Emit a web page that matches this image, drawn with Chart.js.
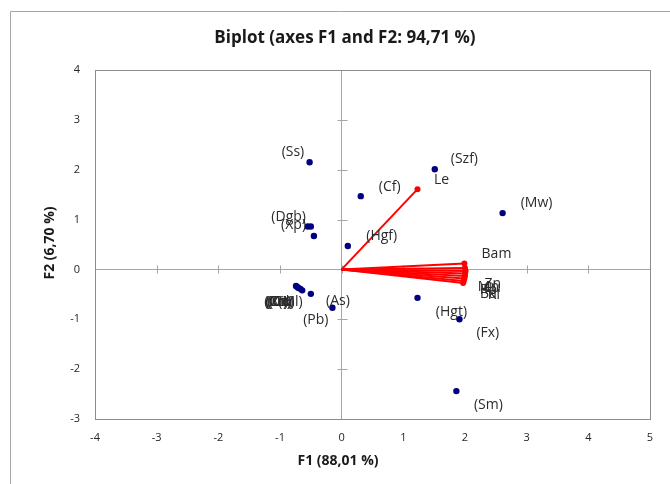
<!DOCTYPE html>
<html>
<head>
<meta charset="utf-8">
<script src="https://cdn.jsdelivr.net/npm/chart.js@4.4.1/dist/chart.umd.min.js"></script>
<style>
  html, body { margin: 0; padding: 0; background: #fff; }
</style>
</head>
<body>
<canvas id="chart" width="670" height="484"></canvas>
<script>
// observations (F1, F2)
const obsX = [-0.52, 1.51, 0.31, 2.61, 0.10, -0.55, -0.50, -0.45, -0.74, -0.72, -0.70, -0.67, -0.64, -0.50, -0.15, 1.23, 1.91, 1.86];
const obsY = [2.15, 2.01, 1.47, 1.13, 0.47, 0.86, 0.86, 0.67, -0.33, -0.35, -0.37, -0.39, -0.42, -0.49, -0.77, -0.57, -1.00, -2.44];

// variables (vector ends)
const varX = [1.23, 1.99, 2.00, 2.01, 2.00, 2.00, 1.99, 1.98, 1.97];
const varY = [1.61, 0.12, 0.03, -0.03, -0.08, -0.13, -0.18, -0.23, -0.27];

// point / vector labels (anchor in F1, F2 units)
const labelText = ["(Ss)", "(Szf)", "Le", "(Cf)", "(Mw)", "(Hgf)", "Bam", "(Dgb)", "(Xp)",
  "(Cr)", "(Ni)", "(Cu)", "(Zn)", "(Cd)", "(Co)", "(Ml)",
  "(As)", "(Pb)", "Zn", "Mn", "Rb", "Cu", "Ba", "KI", "(Hgt)", "(Fx)", "(Sm)"];
const labelX = [-0.79, 1.99, 1.62, 0.78, 3.16, 0.65, 2.51, -0.86, -0.78,
  -1.07, -1.05, -1.03, -1.01, -0.99, -0.97, -0.83,
  -0.06, -0.42, 2.45, 2.38, 2.38, 2.44, 2.38, 2.47, 1.78, 2.37, 2.38];
const labelY = [2.35, 2.21, 1.79, 1.65, 1.34, 0.67, 0.31, 1.05, 0.89,
  -0.65, -0.65, -0.65, -0.65, -0.65, -0.65, -0.66,
  -0.63, -1.01, -0.29, -0.36, -0.42, -0.38, -0.49, -0.52, -0.85, -1.28, -2.72];

const xMin = -4, xMax = 5;
const yMin = -3, yMax = 4;

const fontName = '"Open Sans", "Liberation Sans", sans-serif';

const datasets = [];
datasets.push({
  data: obsX.map((x, i) => ({ x: x, y: obsY[i] })),
  pointRadius: 3.2,
  pointBackgroundColor: '#000080',
  pointBorderWidth: 0,
  showLine: false
});
varX.forEach((x, i) => {
  datasets.push({
    data: [{ x: 0, y: 0 }, { x: x, y: varY[i] }],
    showLine: true,
    borderColor: '#ff0000',
    borderWidth: 2,
    pointRadius: [0, 3],
    pointBackgroundColor: '#ff0000',
    pointBorderWidth: 0
  });
});

const decor = {
  id: 'decor',
  beforeDraw(chart) {
    const ctx = chart.ctx;
    ctx.save();
    ctx.strokeStyle = '#a6a6a6';
    ctx.lineWidth = 1;
    ctx.beginPath();
    ctx.moveTo(10.5, 484);
    ctx.lineTo(10.5, 11.5);
    ctx.lineTo(670, 11.5);
    ctx.stroke();
    ctx.restore();
  },
  beforeDatasetsDraw(chart) {
    const ctx = chart.ctx;
    const a = chart.chartArea;
    const sx = chart.scales.x, sy = chart.scales.y;
    const x0 = Math.round(sx.getPixelForValue(0)) + 0.5;
    const y0 = Math.round(sy.getPixelForValue(0)) + 0.5;
    ctx.save();
    ctx.strokeStyle = '#a6a6a6';
    ctx.lineWidth = 1;
    ctx.beginPath();
    sx.ticks.forEach(t => {
      const px = Math.round(sx.getPixelForValue(t.value)) + 0.5;
      ctx.moveTo(px, y0 - 4);
      ctx.lineTo(px, y0 + 4);
    });
    sy.ticks.forEach(t => {
      const py = Math.round(sy.getPixelForValue(t.value)) + 0.5;
      ctx.moveTo(x0 - 5, py);
      ctx.lineTo(x0 + 5, py);
    });
    ctx.stroke();
    ctx.strokeStyle = '#8c8c8c';
    ctx.strokeRect(Math.round(a.left) + 0.5, Math.round(a.top) + 0.5,
      Math.round(a.right - a.left), Math.round(a.bottom - a.top));
    ctx.restore();
  },
  afterDatasetsDraw(chart) {
    const ctx = chart.ctx;
    const sx = chart.scales.x, sy = chart.scales.y;
    ctx.save();
    ctx.font = '14px ' + fontName;
    ctx.fillStyle = '#2b2b2b';
    ctx.textAlign = 'center';
    ctx.textBaseline = 'middle';
    labelText.forEach((t, i) => {
      ctx.fillText(t, sx.getPixelForValue(labelX[i]), sy.getPixelForValue(labelY[i]));
    });
    ctx.restore();
  },
  afterDraw(chart) {
    const ctx = chart.ctx;
    ctx.save();
    ctx.fillStyle = '#1a1a1a';
    ctx.textAlign = 'center';
    ctx.textBaseline = 'middle';
    ctx.font = 'bold 17px ' + fontName;
    ctx.fillText('Biplot (axes F1 and F2: 94,71 %)', 345, 38);
    ctx.font = 'bold 14px ' + fontName;
    ctx.fillText('F1 (88,01 %)', 338, 461);
    ctx.translate(50, 243);
    ctx.rotate(-Math.PI / 2);
    ctx.fillText('F2 (6,70 %)', 0, 0);
    ctx.restore();
  }
};

new Chart(document.getElementById('chart'), {
  type: 'scatter',
  data: { datasets: datasets },
  options: {
    responsive: false,
    animation: false,
    layout: { padding: { top: 70, right: 20, left: 0, bottom: 0 } },
    plugins: {
      legend: { display: false },
      tooltip: { enabled: false },
      title: { display: false }
    },
    scales: {
      x: {
        type: 'linear',
        min: xMin,
        max: xMax,
        afterFit: s => { s.height = 65; },
        border: { display: false },
        grid: {
          drawTicks: false,
          color: c => (c.tick && c.tick.value === 0) ? '#a6a6a6' : 'rgba(0,0,0,0)'
        },
        ticks: {
          stepSize: 1,
          padding: 12,
          color: '#262626',
          font: { family: fontName, size: 11 }
        }
      },
      y: {
        type: 'linear',
        min: yMin,
        max: yMax,
        afterFit: s => { s.width = 95; },
        border: { display: false },
        grid: {
          drawTicks: false,
          color: c => (c.tick && c.tick.value === 0) ? '#a6a6a6' : 'rgba(0,0,0,0)'
        },
        ticks: {
          stepSize: 1,
          padding: 15,
          color: '#262626',
          font: { family: fontName, size: 11 }
        }
      }
    }
  },
  plugins: [decor]
});
</script>
</body>
</html>
